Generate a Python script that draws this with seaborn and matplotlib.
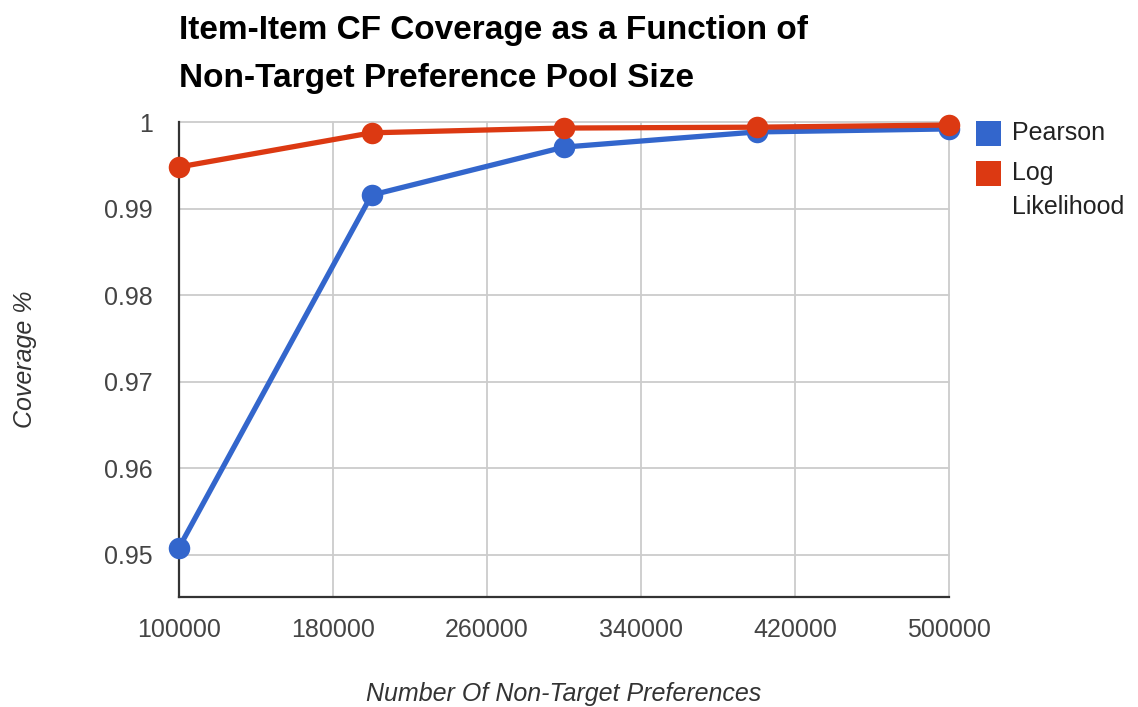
import matplotlib
matplotlib.use("Agg")
import matplotlib.pyplot as plt
from matplotlib.patches import Rectangle
import seaborn as sns
import pandas as pd

x_values = [100000, 200000, 300000, 400000, 500000]
pearson = [0.9508, 0.99155, 0.9971, 0.99885, 0.9992]
log_likelihood = [0.9948, 0.99875, 0.9993, 0.9994, 0.99965]
series_names = ["Pearson", "Log Likelihood"]
legend_lines = [["Pearson"], ["Log", "Likelihood"]]
x_ticks = [100000, 180000, 260000, 340000, 420000, 500000]
y_ticks = [0.95, 0.96, 0.97, 0.98, 0.99, 1.0]
y_tick_labels = ["0.95", "0.96", "0.97", "0.98", "0.99", "1"]
title_lines = ["Item-Item CF Coverage as a Function of", "Non-Target Preference Pool Size"]

df = pd.DataFrame({
    "x": x_values * 2,
    "y": pearson + log_likelihood,
    "series": [series_names[0]] * 5 + [series_names[1]] * 5,
})

sns.set_style("white")
plt.rcParams["font.family"] = ["Liberation Sans", "DejaVu Sans"]

W, H = 1138, 707
colors = ["#3366CC", "#DC3912"]
fig = plt.figure(figsize=(W / 100, H / 100), dpi=100)
ax = fig.add_axes([179 / W, 1 - 597 / H, (949 - 179) / W, (597 - 122) / H])

sns.lineplot(data=df, x="x", y="y", hue="series", palette=colors, marker="o",
             markersize=15.5, markeredgewidth=0, linewidth=3.8, ax=ax, legend=False,
             clip_on=False, zorder=3)

ax.set_xlim(100000, 500000)
ax.set_ylim(0.9451, 1.0)
ax.set_xticks(x_ticks)
ax.set_xticklabels([str(t) for t in x_ticks])
ax.set_yticks(y_ticks)
ax.set_yticklabels(y_tick_labels)
ax.grid(True, color="#cccccc", linewidth=1.3)
ax.set_axisbelow(True)
for gl in ax.get_xgridlines() + ax.get_ygridlines():
    gl.set_clip_on(False)
for s in ["top", "right"]:
    ax.spines[s].set_visible(False)
for s in ["left", "bottom"]:
    ax.spines[s].set_color("#333333")
    ax.spines[s].set_linewidth(1.6)
    ax.spines[s].set_zorder(2.5)
ax.tick_params(axis="both", length=0, labelsize=18, colors="#444444")
ax.tick_params(axis="y", pad=19)
ax.tick_params(axis="x", pad=15)

ax.set_xlabel("Number Of Non-Target Preferences", fontsize=18, style="italic",
              color="#333333", labelpad=29)
ax.set_ylabel("Coverage %", fontsize=18, style="italic", color="#333333", labelpad=48)

for i, line in enumerate(title_lines):
    fig.text(179 / W, 1 - (39 + 48 * i) / H, line, fontsize=24, fontweight="bold",
             color="black", ha="left", va="baseline")

# legend
for i, (c, lines) in enumerate(zip(colors, legend_lines)):
    cy = 133 + 40 * i
    fig.add_artist(Rectangle((976 / W, 1 - (cy + 12.5) / H), 25 / W, 25 / H,
                             transform=fig.transFigure, facecolor=c, edgecolor="none"))
    for j, t in enumerate(lines):
        fig.text(1012 / W, 1 - (cy + 34 * j) / H, t, fontsize=18, color="#222222",
                 ha="left", va="center")

fig.savefig("out.png", dpi=100)
